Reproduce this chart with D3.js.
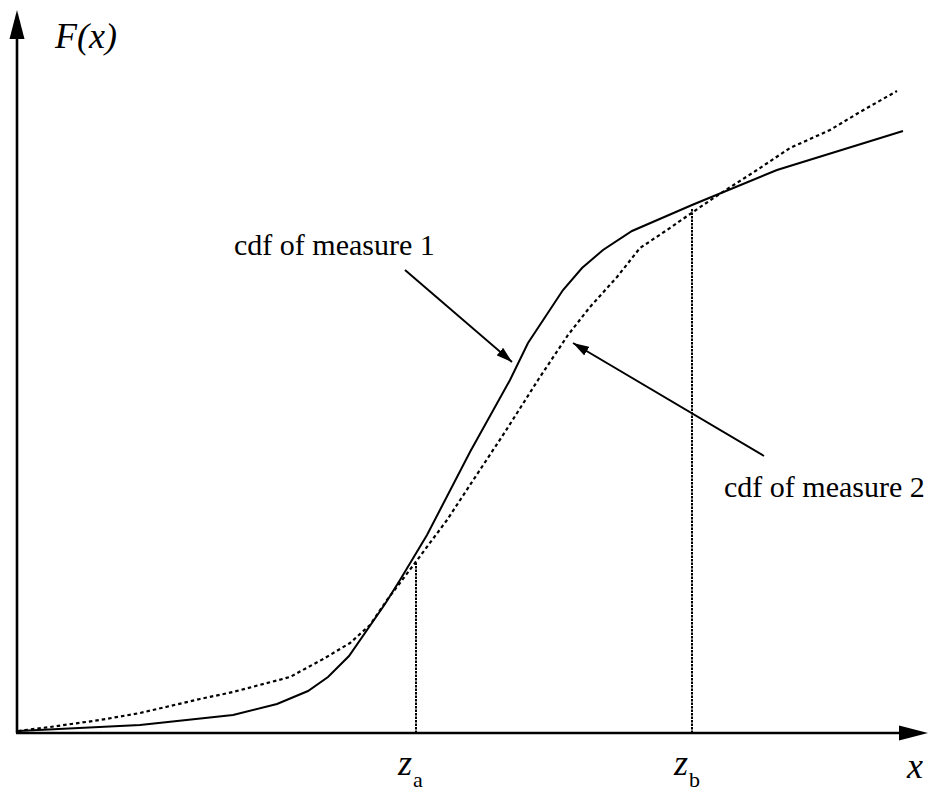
<!DOCTYPE html>
<html>
<head>
  <meta charset="UTF-8">
  <style>
    body { margin: 0; background: #fff; }
    text { font-family: "Liberation Serif", "Times New Roman", serif; fill: #000; }
  </style>
</head>
<body>
<svg></svg>
<script src="https://d3js.org/d3.v7.min.js"></script>
<script>
let width = 930, height = 792;

// curves (x, F(x)) in chart units
var measure1X = [1, 123, 216, 260, 291, 311, 332, 368, 383, 410, 453, 493, 511, 546, 565, 586, 615, 675, 760, 886];
var measure1Y = [2, 8, 18, 29, 42, 56, 77, 129, 153, 198, 281, 353, 390, 443, 465, 483, 502, 528, 563, 602];
var measure2X = [1, 33, 83, 123, 183, 216, 273, 308, 333, 353, 370, 398, 430, 453, 488, 521, 551, 573, 600, 623, 650, 676, 698, 740, 773, 813, 843, 880];
var measure2Y = [2, 6, 13, 20, 34, 41, 56, 75, 90, 108, 133, 170, 213, 248, 301, 353, 398, 426, 456, 485, 503, 521, 536, 563, 585, 603, 621, 642];

// the two marked points z_a, z_b and where their drop lines stop
var zNames = ["a", "b"];
var zX = [399, 675];
var zTop = [170, 525];

// labels with pointer arrows: [from, to] in chart units
var labelNames = ["cdf of measure 1", "cdf of measure 2"];
var arrowFrom = [[388, 463], [747, 277]];
var arrowTo = [[495, 371], [556, 390]];

let svg = d3.select("svg")
    .attr("width", width)
    .attr("height", height);

var x = d3.scaleLinear().domain([0, 911]).range([17, 928]);
var y = d3.scaleLinear().domain([0, 723]).range([733, 10]);

// arrow marker for the pointers
svg.append("defs").append("marker")
    .attr("id", "head")
    .attr("markerUnits", "userSpaceOnUse")
    .attr("viewBox", "0 -5 16 10")
    .attr("refX", 16)
    .attr("refY", 0)
    .attr("markerWidth", 16)
    .attr("markerHeight", 10)
    .attr("orient", "auto")
  .append("path")
    .attr("d", "M0,-5L16,0L0,5Z")
    .attr("fill", "#000");

// axes
svg.append("line")
    .attr("x1", x(0)).attr("y1", y(0))
    .attr("x2", x(0)).attr("y2", y(700))
    .attr("stroke", "#000").attr("stroke-width", 2.6);
svg.append("line")
    .attr("x1", x(0) - 1).attr("y1", y(0))
    .attr("x2", x(885)).attr("y2", y(0))
    .attr("stroke", "#000").attr("stroke-width", 2.6);
svg.append("path")
    .attr("d", "M" + x(0) + "," + y(723) + "L" + (x(0) + 7.5) + "," + y(694) + "L" + (x(0) - 7.5) + "," + y(694) + "Z")
    .attr("fill", "#000");
svg.append("path")
    .attr("d", "M" + x(911) + "," + y(0) + "L" + x(882) + "," + (y(0) - 7.5) + "L" + x(882) + "," + (y(0) + 7.5) + "Z")
    .attr("fill", "#000");

// drop lines at z_a and z_b
svg.selectAll(".drop")
    .data(zX)
    .enter()
    .append("line")
    .attr("class", "drop")
    .attr("x1", d => x(d)).attr("x2", d => x(d))
    .attr("y1", y(0))
    .attr("y2", (d, i) => y(zTop[i]))
    .attr("stroke", "#000")
    .attr("stroke-width", 2)
    .attr("stroke-dasharray", "2.5,1");

var line = d3.line()
    .x(d => x(d[0]))
    .y(d => y(d[1]));

svg.append("path")
    .datum(measure2X.map((v, i) => [v, measure2Y[i]]))
    .attr("d", line)
    .attr("fill", "none")
    .attr("stroke", "#000")
    .attr("stroke-width", 2.2)
    .attr("stroke-dasharray", "3.5,3");

svg.append("path")
    .datum(measure1X.map((v, i) => [v, measure1Y[i]]))
    .attr("d", line)
    .attr("fill", "none")
    .attr("stroke", "#000")
    .attr("stroke-width", 2);

// pointers
svg.selectAll(".pointer")
    .data(arrowFrom)
    .enter()
    .append("line")
    .attr("class", "pointer")
    .attr("x1", d => x(d[0])).attr("y1", d => y(d[1]))
    .attr("x2", (d, i) => x(arrowTo[i][0])).attr("y2", (d, i) => y(arrowTo[i][1]))
    .attr("stroke", "#000")
    .attr("stroke-width", 2)
    .attr("marker-end", "url(#head)");

svg.append("text")
    .attr("x", 234).attr("y", 255)
    .attr("font-size", 30)
    .text(labelNames[0]);
svg.append("text")
    .attr("x", 724).attr("y", 497)
    .attr("font-size", 30)
    .text(labelNames[1]);

// axis titles
svg.append("text")
    .attr("x", 55).attr("y", 48)
    .attr("font-size", 36)
    .attr("font-style", "italic")
    .text("F(x)");
svg.append("text")
    .attr("x", 907).attr("y", 778)
    .attr("font-size", 36)
    .attr("font-style", "italic")
    .text("x");

var zl = svg.selectAll(".zlabel")
    .data(zX)
    .enter()
    .append("text")
    .attr("class", "zlabel")
    .attr("x", d => x(d) - 18)
    .attr("y", 775);
zl.append("tspan")
    .attr("font-size", 36)
    .attr("font-style", "italic")
    .text("z");
zl.append("tspan")
    .attr("font-size", 22)
    .attr("dx", 1)
    .attr("dy", 12)
    .text((d, i) => zNames[i]);
</script>
</body>
</html>
